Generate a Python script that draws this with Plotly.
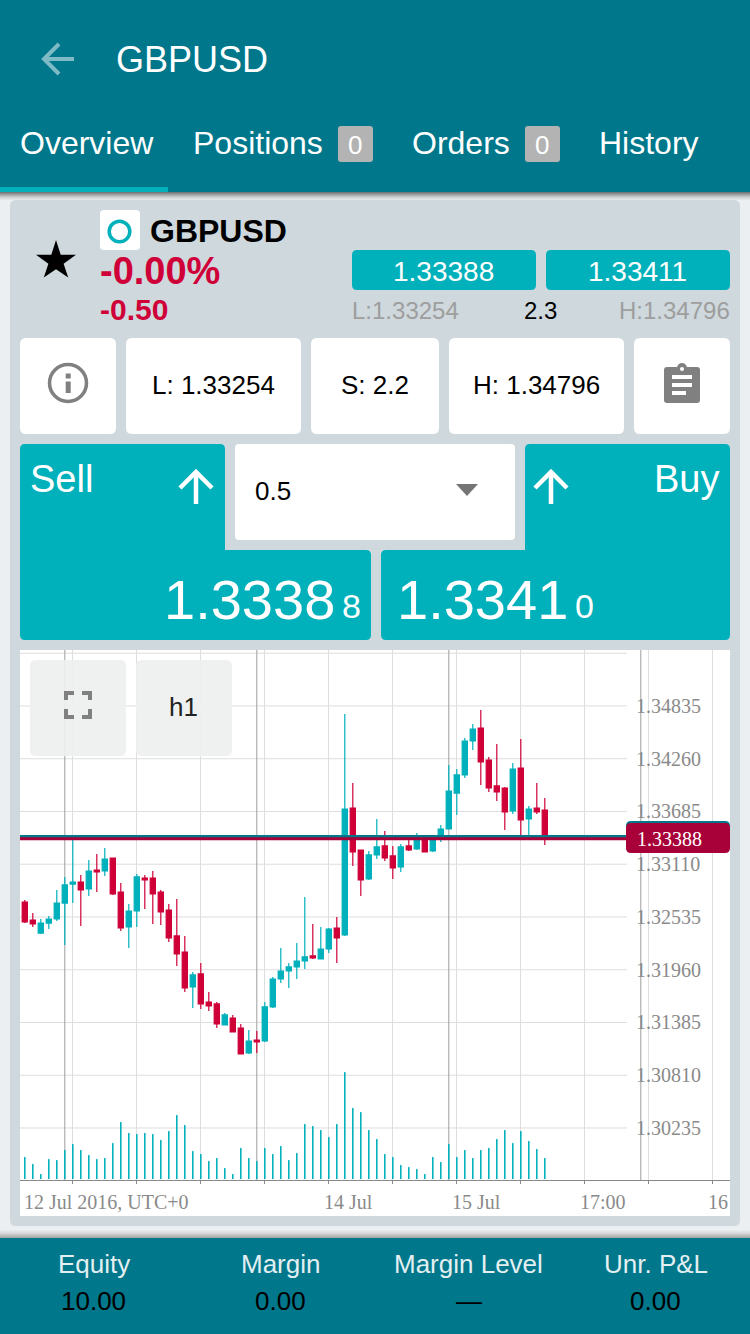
import plotly.graph_objects as go

W = 750
H = 1334

HEADER = '#00778b'
TEAL = '#00b1bb'
RED = '#cf0038'
TAG_RED = '#a80038'
PANEL = '#cfd8dd'
PAGE = '#eceff1'
ICON = '#808080'
SANS = 'Liberation Sans'
SERIF = 'Liberation Serif'

opens = [1.32698, 1.32502, 1.32360, 1.32469, 1.32513, 1.32687, 1.32894, 1.32916, 1.32840, 1.33047, 1.33036,
         1.33178, 1.32807, 1.32426, 1.32600, 1.32960, 1.32960, 1.32807, 1.32611, 1.32328, 1.32153, 1.31772,
         1.31914, 1.31608, 1.31587, 1.31358, 1.31434, 1.31325, 1.31053, 1.31194, 1.31183, 1.31554, 1.31859,
         1.31946, 1.31990, 1.32055, 1.32110, 1.32077, 1.32186, 1.32415, 1.32339, 1.33723, 1.33265, 1.32949,
         1.33211, 1.33309, 1.33200, 1.33080, 1.33309, 1.33276, 1.33385, 1.33254, 1.33385, 1.33494, 1.33886,
         1.34083, 1.34453, 1.34595, 1.34246, 1.33963, 1.33941, 1.33690, 1.34159, 1.33603, 1.33723, 1.33701]
highs = [1.32720, 1.32578, 1.32513, 1.32546, 1.32829, 1.32971, 1.33381, 1.32993, 1.33156, 1.33221, 1.33287,
         1.33178, 1.32905, 1.32677, 1.33003, 1.32993, 1.33036, 1.32829, 1.32677, 1.32731, 1.32328, 1.31935,
         1.32033, 1.31717, 1.31608, 1.31489, 1.31467, 1.31369, 1.31303, 1.31292, 1.31608, 1.31881, 1.32197,
         1.32034, 1.32252, 1.32753, 1.32459, 1.32426, 1.32415, 1.32535, 1.34747, 1.33995, 1.33265, 1.33254,
         1.33603, 1.33472, 1.33309, 1.33331, 1.33388, 1.33450, 1.33385, 1.33385, 1.33538, 1.34192, 1.34148,
         1.34486, 1.34638, 1.34791, 1.34279, 1.34420, 1.33952, 1.34213, 1.34475, 1.33745, 1.33995, 1.33832]
lows = [1.32469, 1.32426, 1.32350, 1.32404, 1.32491, 1.32230, 1.32687, 1.32437, 1.32764, 1.32807, 1.32982,
        1.32775, 1.32382, 1.32197, 1.32426, 1.32622, 1.32459, 1.32448, 1.32262, 1.32001, 1.31717, 1.31543,
        1.31532, 1.31510, 1.31325, 1.31358, 1.31281, 1.31042, 1.31042, 1.31053, 1.31172, 1.31543, 1.31816,
        1.31761, 1.31859, 1.31968, 1.32077, 1.32077, 1.32143, 1.32034, 1.32328, 1.33091, 1.32764, 1.32938,
        1.33167, 1.33145, 1.32949, 1.33025, 1.33254, 1.33265, 1.33243, 1.33243, 1.33352, 1.33494, 1.33647,
        1.34050, 1.34355, 1.33974, 1.33897, 1.33799, 1.33483, 1.33658, 1.33429, 1.33392, 1.33658, 1.33320]
closes = [1.32480, 1.32459, 1.32469, 1.32513, 1.32687, 1.32884, 1.32916, 1.32829, 1.33036, 1.33025, 1.33167,
          1.32786, 1.32415, 1.32600, 1.32971, 1.32938, 1.32786, 1.32589, 1.32306, 1.32132, 1.31761, 1.31903,
          1.31587, 1.31565, 1.31369, 1.31467, 1.31281, 1.31042, 1.31183, 1.31172, 1.31554, 1.31859, 1.31946,
          1.31990, 1.32055, 1.32099, 1.32088, 1.32186, 1.32404, 1.32306, 1.33712, 1.33243, 1.32938, 1.33211,
          1.33298, 1.33178, 1.33069, 1.33298, 1.33265, 1.33385, 1.33243, 1.33385, 1.33494, 1.33908, 1.34083,
          1.34453, 1.34584, 1.34224, 1.33941, 1.33897, 1.33679, 1.34148, 1.33592, 1.33712, 1.33679, 1.33388]
volumes = [65, 44, 14, 59, 56, 86, 104, 86, 71, 59, 62, 107, 170, 137, 134, 137, 134, 116, 143, 191, 161, 83,
           74, 53, 62, 32, 14, 92, 62, 53, 92, 74, 98, 56, 77, 164, 158, 146, 125, 164, 320, 212, 200, 146,
           119, 74, 65, 41, 35, 29, 14, 65, 50, 104, 65, 86, 62, 86, 92, 119, 146, 107, 143, 113, 89, 62]

price_ticks = [1.34835, 1.34260, 1.33685, 1.33110, 1.32535, 1.31960, 1.31385, 1.30810, 1.30235]
price_labels = ['1.34835', '1.34260', '1.33685', '1.33110', '1.32535', '1.31960', '1.31385', '1.30810', '1.30235']
top_grid_price = 1.35410
grid_bars = [6, 14, 22, 30, 38, 46, 54, 62, 70, 78, 86]
separator_bars = [5, 29, 53, 77]
date_bars = [0, 38, 54, 70, 86]
date_labels = ['12 Jul 2016, UTC+0', '14 Jul', '15 Jul', '17:00', '16']
bid = 1.33388
ask = 1.33411
bars = list(range(len(opens)))


def px(x):
    return x / W


def py(y):
    return 1 - y / H


def rrect(x0, y0, x1, y1, r, color, layer='below', opacity=1):
    path = (f'M{px(x0 + r)},{py(y0)} L{px(x1 - r)},{py(y0)} Q{px(x1)},{py(y0)} {px(x1)},{py(y0 + r)} '
            f'L{px(x1)},{py(y1 - r)} Q{px(x1)},{py(y1)} {px(x1 - r)},{py(y1)} L{px(x0 + r)},{py(y1)} '
            f'Q{px(x0)},{py(y1)} {px(x0)},{py(y1 - r)} L{px(x0)},{py(y0 + r)} Q{px(x0)},{py(y0)} {px(x0 + r)},{py(y0)} Z')
    shapes.append(dict(type='path', path=path, xref='paper', yref='paper', fillcolor=color,
                       line_width=0, layer=layer, opacity=opacity))


def poly(points, color, layer='below', closed=True, width=0):
    path = 'M' + ' L'.join(f'{px(x)},{py(y)}' for x, y in points)
    if closed:
        shapes.append(dict(type='path', path=path + ' Z', xref='paper', yref='paper', fillcolor=color,
                           line_width=0, layer=layer))
    else:
        shapes.append(dict(type='path', path=path, xref='paper', yref='paper',
                           line=dict(color=color, width=width), layer=layer))


def ring(cx, cy, r, color, width):
    shapes.append(dict(type='circle', xref='paper', yref='paper', x0=px(cx - r), x1=px(cx + r),
                       y0=py(cy + r), y1=py(cy - r), line=dict(color=color, width=width), layer='below'))


def dot(cx, cy, r, color):
    shapes.append(dict(type='circle', xref='paper', yref='paper', x0=px(cx - r), x1=px(cx + r),
                       y0=py(cy + r), y1=py(cy - r), fillcolor=color, line_width=0, layer='below'))


def label(x, y, s, size, color='#000000', anchor='left', family=SANS):
    notes.append(dict(x=px(x), y=py(y), xref='paper', yref='paper', text=s, showarrow=False, xanchor=anchor,
                      yanchor='middle', font=dict(family=family, size=size, color=color), borderpad=0, borderwidth=0))


shapes = []
notes = []

# page blocks
rrect(10, 200, 740, 1226, 6, PANEL)
for i, alpha in enumerate([0.5, 0.42, 0.34, 0.26, 0.18, 0.12, 0.07, 0.03]):
    poly([(0, 192 + i), (W, 192 + i), (W, 193 + i), (0, 193 + i)], f'rgba(0,0,0,{alpha})')
    poly([(0, 1237 - i), (W, 1237 - i), (W, 1238 - i), (0, 1238 - i)], f'rgba(0,0,0,{alpha * 0.6})')
poly([(0, 0), (W, 0), (W, 192), (0, 192)], HEADER)
poly([(0, 187), (168, 187), (168, 192), (0, 192)], TEAL)
poly([(0, 1238), (W, 1238), (W, H), (0, H)], HEADER)

# header
poly([(74, 59), (45, 59)], '#7fbbc6', closed=False, width=4)
poly([(59, 44), (44, 59), (59, 74)], '#7fbbc6', closed=False, width=4)
label(116, 60, 'GBPUSD', 36, 'white')
label(20, 143, 'Overview', 32, 'white')
label(193.2, 143, 'Positions', 32, 'white')
rrect(338, 126, 373, 162, 3, '#b3b3b3')
label(354.5, 145, '0', 26, 'white', 'center')
label(412.2, 143, 'Orders', 32, 'white')
rrect(525, 126, 560, 162, 3, '#b3b3b3')
label(541.5, 145, '0', 26, 'white', 'center')
label(599.2, 143, 'History', 32, 'white')

# symbol block
poly([(56, 240), (60.7, 254.7), (76, 254.7), (63.6, 263.7), (68.2, 277.5), (56, 269.2),
      (43.8, 277.5), (48.4, 263.7), (36, 254.7), (51.3, 254.7)], '#000000')
rrect(100, 210, 140, 250, 4, 'white')
ring(119.5, 231.5, 10.3, TEAL, 3.5)
label(150, 231.5, '<b>GBPUSD</b>', 32)
label(100, 271, '<b>-0.00%</b>', 38, RED)
label(100, 309, '<b>-0.50</b>', 30, RED)
rrect(352, 250, 536, 290, 5, TEAL)
rrect(546, 250, 730, 290, 5, TEAL)
label(443, 271, '1.33388', 28, 'white', 'center')
label(637, 271, '1.33411', 28, 'white', 'center')
label(352, 310, 'L:1.33254', 24, '#9e9e9e')
label(540, 310, '2.3', 24, '#000000', 'center')
label(730, 310, 'H:1.34796', 24, '#9e9e9e', 'right')

# info cards
for x0, x1 in [(20, 116), (126, 301), (311, 439), (449, 624), (634, 730)]:
    rrect(x0, 338, x1, 434, 6, 'white')
ring(68, 383, 18.5, ICON, 3.5)
poly([(65.7, 373.5), (70.7, 373.5), (70.7, 378.5), (65.7, 378.5)], ICON)
poly([(65.7, 381.5), (70.7, 381.5), (70.7, 393), (65.7, 393)], ICON)
label(213.5, 385, 'L: 1.33254', 26, '#000000', 'center')
label(375, 385, 'S: 2.2', 26, '#000000', 'center')
label(536.5, 385, 'H: 1.34796', 26, '#000000', 'center')
dot(682, 368, 5, ICON)
poly([(675, 367), (689, 367), (689, 372), (675, 372)], ICON)
rrect(664, 367, 700, 403, 3, ICON)
dot(682, 369, 2, 'white')
poly([(672, 375), (692, 375), (692, 379), (672, 379)], 'white')
poly([(672, 383), (692, 383), (692, 387), (672, 387)], 'white')
poly([(672, 391), (686, 391), (686, 395), (672, 395)], 'white')

# order block
rrect(20, 444, 225, 560, 5, TEAL)
rrect(20, 550, 371, 640, 5, TEAL)
poly([(225, 550), (225, 555), (220, 555), (220, 550)], TEAL)
rrect(525, 444, 730, 560, 5, TEAL)
rrect(381, 550, 730, 640, 5, TEAL)
rrect(235, 444, 515, 540, 4, 'white')
label(30, 479, 'Sell', 38, 'white')
label(719.2, 479, 'Buy', 38, 'white', 'right')
for cx in [196, 551]:
    poly([(cx, 504), (cx, 472)], 'white', closed=False, width=4.5)
    poly([(cx - 16, 488), (cx, 472), (cx + 16, 488)], 'white', closed=False, width=4.5)
label(255, 491, '0.5', 26)
poly([(456, 484), (478, 484), (467, 496)], '#757575')
label(334.5, 599, '1.3338', 56, 'white', 'right')
label(342, 606, '8', 34, 'white')
label(397.2, 599, '1.3341', 56, 'white')
label(575, 606, '0', 34, 'white')

# chart card
poly([(20, 650), (730, 650), (730, 1216), (20, 1216)], 'white')

# bottom bar
for x, head, val in [(93.5, 'Equity', '10.00'), (280.5, 'Margin', '0.00'),
                     (468.5, 'Margin Level', '—'), (655.5, 'Unr. P&amp;L', '0.00')]:
    label(x, 1263.5, head, 26, '#e3eff1', 'center')
    label(x, 1301, val, 26, '#000000', 'center')

# chart lines
for p in [top_grid_price] + price_ticks:
    shapes.append(dict(type='line', xref='paper', yref='y', x0=px(20), x1=px(627), y0=p, y1=p,
                       line=dict(color='#dedede', width=1), layer='below'))
for b in separator_bars:
    shapes.append(dict(type='line', xref='x', yref='paper', x0=b, x1=b, y0=py(1180), y1=py(650),
                       line=dict(color='#9e9e9e', width=1), layer='below'))
for p, color in [(ask, HEADER), (bid, TAG_RED)]:
    shapes.append(dict(type='line', xref='paper', yref='y', x0=px(20), x1=px(627), y0=p, y1=p,
                       line=dict(color=color, width=3), layer='above'))

# overlay controls
rrect(626, 821, 730, 851, 5, HEADER, 'above')
rrect(626, 823, 730, 853, 5, TAG_RED, 'above')
rrect(30, 660, 126, 756, 6, '#eef0ef', 'above', 0.93)
rrect(136, 660, 232, 756, 6, '#eef0ef', 'above', 0.93)
for pts in [[(66, 700), (66, 693), (74, 693)], [(82, 693), (90, 693), (90, 700)],
            [(66, 709), (66, 717), (74, 717)], [(82, 717), (90, 717), (90, 709)]]:
    poly(pts, ICON, 'above', closed=False, width=4)
label(183.5, 707, 'h1', 26, '#222222', 'center')
notes.append(dict(x=px(635), y=bid, xref='paper', yref='y', text='1.33388', showarrow=False, xanchor='left',
                  yanchor='middle', font=dict(family=SERIF, size=20, color='white')))

for b, s in zip(date_bars, date_labels):
    notes.append(dict(x=b, y=py(1202), xref='x', yref='paper', text=s, showarrow=False, xanchor='left',
                      xshift=-7 if b else -3, yanchor='middle', font=dict(family=SERIF, size=20, color='#8a8a8a')))

fig = go.Figure()
# volume sticks: error bars stay thin, bars get snapped to two pixels
fig.add_trace(go.Scatter(x=bars, y=volumes, mode='markers', marker=dict(size=1, color=TEAL), yaxis='y2',
                         error_y=dict(type='data', symmetric=False, array=[0] * len(volumes), arrayminus=volumes,
                                      width=0, thickness=1.6, color=TEAL)))
fig.add_trace(go.Candlestick(x=bars, open=opens, high=highs, low=lows, close=closes, whiskerwidth=0,
                             increasing=dict(line=dict(color=TEAL, width=1.2), fillcolor=TEAL),
                             decreasing=dict(line=dict(color=RED, width=1.2), fillcolor=RED)))
fig.update_layout(
    width=W, height=H, margin=dict(l=0, r=0, t=0, b=0), autosize=False,
    paper_bgcolor=PAGE, plot_bgcolor='rgba(0,0,0,0)', showlegend=False, boxgap=0.35, boxgroupgap=0,
    shapes=shapes, annotations=notes,
    xaxis=dict(domain=[px(20), px(730)], range=[-0.6, 88.15], tickvals=grid_bars, showticklabels=False,
               showgrid=True, gridcolor='#dedede', gridwidth=1, zeroline=False, ticks='outside', ticklen=3,
               tickcolor='#888888', showline=True, linecolor='#888888', linewidth=1, rangeslider_visible=False),
    yaxis=dict(domain=[py(1180), py(650)], range=[1.29668, 1.35445], anchor='free', position=px(627), side='right',
               tickvals=price_ticks, ticktext=price_labels, showgrid=False, zeroline=False, ticks='',
               ticklabelstandoff=8, tickfont=dict(family=SERIF, size=20, color='#8a8a8a')),
    yaxis2=dict(domain=[py(1180), py(650)], overlaying='y', range=[-3, 1587], visible=False),
)
fig.write_html('out.html', config={'displayModeBar': False}, post_script="document.body.style.margin='0';")
